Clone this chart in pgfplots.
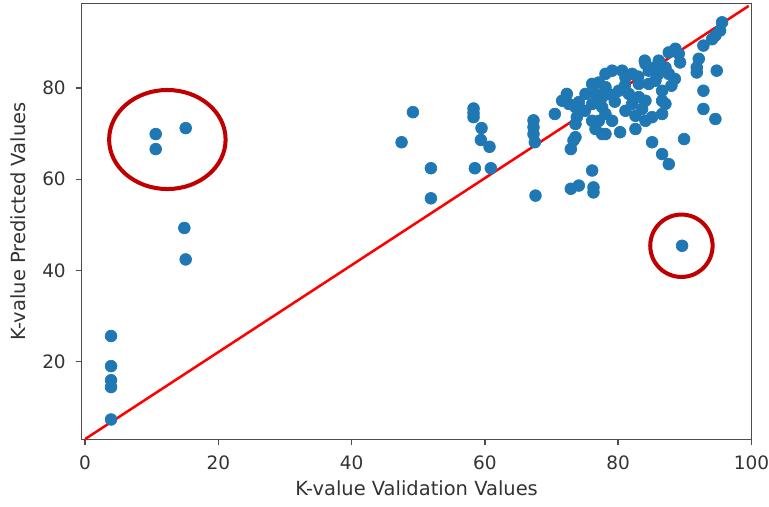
\documentclass[border=0pt]{standalone}
\usepackage{fontspec}
\setmainfont{DejaVu Sans}
\usepackage{pgfplots}
\pgfplotsset{compat=1.18}
\definecolor{mplblue}{HTML}{1F77B4}
\definecolor{ringred}{HTML}{C00000}

\begin{document}
\begin{tikzpicture}
\begin{axis}[
  scale only axis,
  width=399pt, height=260pt,
  xmin=-0.5, xmax=100, ymin=2.9, ymax=98.6,
  xtick={0,20,40,60,80,100},
  ytick={20,40,60,80},
  tick align=outside,
  tick pos=left,
  major tick length=3.5pt,
  axis line style={black!70, line width=0.8pt},
  tick style={black!70, line width=0.8pt},
  ticklabel style={font=\fontsize{11}{13}\selectfont, text=black!80},
  yticklabel style={xshift=-2.5pt},
  xticklabel style={yshift=-2.5pt, inner xsep=0pt},
  /pgf/number format/assume math mode=true,
  xlabel={K-value Validation Values},
  ylabel={K-value Predicted Values},
  ylabel shift=3pt,
  label style={font=\fontsize{11.6}{13}\selectfont, text=black!80},
  clip=false,
]
% predicted vs validation
\addplot[only marks, mark=*, mark size=3.5pt, color=mplblue] coordinates {
 (3.9,7.3) (3.9,14.4) (3.9,15.9) (3.9,19.0) (3.9,25.6)
 (10.6,69.9) (10.6,66.6) (15.1,71.2) (14.9,49.3) (15.1,42.4)
 (49.2,74.7) (47.5,68.1) (51.9,62.4) (51.9,55.8)
 (58.3,75.5) (58.3,74.5) (58.3,73.6) (59.5,71.2) (59.4,68.6) (60.7,67.1) (58.5,62.4) (60.9,62.4)
 (67.3,72.9) (67.3,71.4) (67.3,69.9) (67.5,68.1) (67.6,56.4)
 (70.5,74.3) (72.3,78.7) (71.6,77.2) (72.6,76.5) (73.6,75.8) (74.1,76.9) (73.8,73.6)
 (73.6,72.1) (73.3,68.5) (72.9,66.6) (73.6,69.2)
 (76.1,80.9) (77.1,81.2) (75.1,78.7) (76.6,78.7) (77.6,78.0) (76.1,76.5) (77.6,75.8)
 (78.1,83.1) (77.1,72.8) (77.6,69.9)
 (76.1,72.8) (76.6,71.0) (78.1,69.9) (80.3,70.3) (82.6,71.0) (84.1,72.8)
 (76.1,61.9) (72.9,57.9) (74.1,58.6) (76.3,58.2) (76.3,57.1)
 (79.1,83.8) (78.1,80.2) (80.6,83.8) (81.1,82.3) (82.1,83.1) (84.1,85.3) (84.6,83.8)
 (86.1,86.0) (87.6,87.8) (88.6,88.6) (89.1,87.5) (87.1,84.5) (87.6,83.1)
 (83.1,80.9) (84.6,80.9) (85.6,81.6) (80.1,79.4) (81.6,78.7) (83.1,78.0) (84.1,77.2)
 (86.6,79.4) (86.6,77.2) (83.6,75.4) (82.1,76.5) (81.1,75.0) (78.1,74.3) (79.1,72.8)
 (82.6,73.9) (85.1,73.6) (87.1,76.5) (86.6,74.3)
 (79.5,77.0) (81.0,80.5) (88.0,80.5) (88.5,82.0) (86.0,83.0) (83.0,82.5) (75.0,75.0)
 (79.0,78.5) (84.0,86.0) (85.5,84.5)
 (95.6,94.4) (95.3,92.6) (94.6,91.5) (94.1,90.7) (92.8,89.3) (92.1,86.4) (91.8,84.5)
 (91.8,83.4) (94.8,83.8) (89.3,85.6)
 (92.8,79.4) (92.8,75.4) (94.6,73.2) (89.9,68.8) (85.1,68.1) (86.6,65.5) (87.6,63.3)
 (89.6,45.4)
};
% identity-style reference line
\addplot[red, line width=1.5pt] coordinates {(0,3.0) (99.6,98.0)};
% annotation rings
\draw[ringred, line width=2.4pt] (axis cs:12.35,68.7) ellipse [x radius=8.74, y radius=10.86];
\draw[ringred, line width=2.4pt] (axis cs:89.5,45.4) ellipse [x radius=4.68, y radius=6.84];
\end{axis}
% margins as in the screenshot
\path ([xshift=-3pt]current bounding box.west) ([yshift=1.5pt]current bounding box.north)
      ([yshift=-3pt]current bounding box.south);
\end{tikzpicture}
\end{document}
